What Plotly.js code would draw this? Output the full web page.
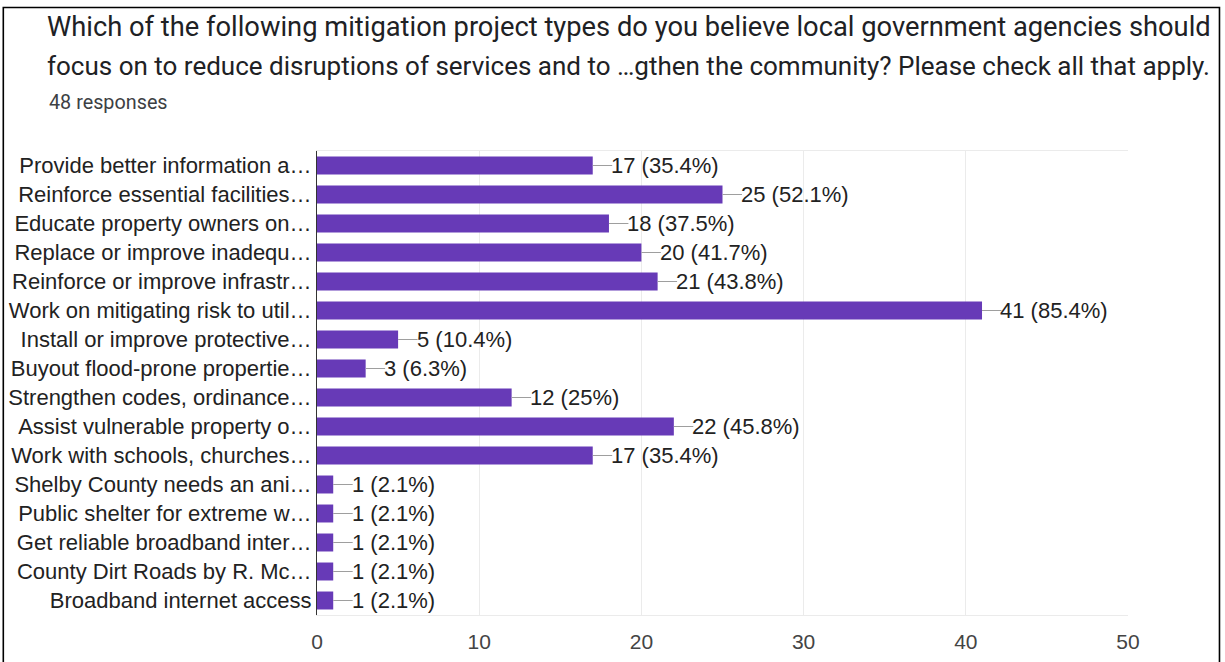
<!DOCTYPE html>
<html>
<head>
<meta charset="utf-8">
<script src="https://cdn.plot.ly/plotly-3.0.1.min.js"></script>
<style>
  html, body { margin: 0; padding: 0; background: #fff; }
  #chart { width: 1225px; height: 662px; }
</style>
</head>
<body>
<div id="chart"></div>
<script>
const categories = [
  "Provide better information a\u2026",
  "Reinforce essential facilities\u2026",
  "Educate property owners on\u2026",
  "Replace or improve inadequ\u2026",
  "Reinforce or improve infrastr\u2026",
  "Work on mitigating risk to util\u2026",
  "Install or improve protective\u2026",
  "Buyout flood-prone propertie\u2026",
  "Strengthen codes, ordinance\u2026",
  "Assist vulnerable property o\u2026",
  "Work with schools, churches\u2026",
  "Shelby County needs an ani\u2026",
  "Public shelter for extreme w\u2026",
  "Get reliable broadband inter\u2026",
  "County Dirt Roads by R. Mc\u2026",
  "Broadband internet access"
];
const counts = [17, 25, 18, 20, 21, 41, 5, 3, 12, 22, 17, 1, 1, 1, 1, 1];
const percents = ["35.4", "52.1", "37.5", "41.7", "43.8", "85.4", "10.4", "6.3", "25", "45.8", "35.4", "2.1", "2.1", "2.1", "2.1", "2.1"];
const xTicks = [0, 10, 20, 30, 40, 50];
const titleLine1 = "Which of the following mitigation project types do you believe local government agencies should";
const titleLine2 = "focus on to reduce disruptions of services and to \u2026gthen the community? Please check all that apply.";
const subtitle = "48 responses";

const LEAD = 1.2;
const LABEL_FONT = "Liberation Sans, Arial, sans-serif";

const bars = {
  type: "bar",
  orientation: "h",
  x: counts,
  y: categories,
  marker: { color: "#673ab7", line: { width: 0 } },
  hoverinfo: "none",
  showlegend: false
};

const lx = [], ly = [];
counts.forEach((v, i) => {
  lx.push(v, v + LEAD, null);
  ly.push(categories[i], categories[i], null);
});
const leaders = {
  type: "scatter",
  mode: "lines",
  x: lx,
  y: ly,
  line: { color: "#9e9e9e", width: 1 },
  hoverinfo: "none",
  showlegend: false
};

const annotations = counts.map((v, i) => ({
  x: v + LEAD,
  y: categories[i],
  xref: "x",
  yref: "y",
  text: v + " (" + percents[i] + "%)",
  showarrow: false,
  xanchor: "left",
  yanchor: "middle",
  xshift: -3,
  font: { family: LABEL_FONT, size: 22, color: "#222222" }
}));

annotations.push(
  { xref: "paper", yref: "paper", x: -0.3354, y: 1.2672, xanchor: "left", yanchor: "middle",
    text: titleLine1, showarrow: false,
    font: { family: "Roboto, sans-serif", size: 27.3, color: "#202124" } },
  { xref: "paper", yref: "paper", x: -0.3354, y: 1.1832, xanchor: "left", yanchor: "middle",
    text: titleLine2, showarrow: false,
    font: { family: "Roboto, sans-serif", size: 26, color: "#202124" } },
  { xref: "paper", yref: "paper", x: -0.3329, y: 1.1056, xanchor: "left", yanchor: "middle",
    text: subtitle, showarrow: false,
    font: { family: "Roboto, sans-serif", size: 19.8, color: "#3c4043" } }
);

const layout = {
  width: 1225,
  height: 662,
  margin: { l: 317, r: 97, t: 151, b: 47, pad: 0 },
  paper_bgcolor: "#ffffff",
  plot_bgcolor: "#ffffff",
  bargap: 0.38,
  xaxis: {
    range: [0, 50],
    tickvals: xTicks,
    ticktext: xTicks.map(String),
    showgrid: true,
    gridcolor: "#ebebeb",
    gridwidth: 1,
    zeroline: false,
    showline: true,
    linecolor: "#ebebeb",
    linewidth: 1,
    mirror: true,
    ticks: "",
    ticklabelstandoff: 8,
    tickfont: { family: LABEL_FONT, size: 21, color: "#444444" },
    fixedrange: true
  },
  yaxis: {
    type: "category",
    autorange: false,
    range: [categories.length - 0.5, -0.5],
    showgrid: false,
    zeroline: false,
    showline: true,
    linecolor: "#333333",
    linewidth: 1,
    ticks: "",
    tickfont: { family: LABEL_FONT, size: 22, color: "#222222" },
    fixedrange: true
  },
  annotations: annotations,
  shapes: [
    { type: "rect", xref: "paper", yref: "paper",
      x0: -0.3868, x1: 1.1128, y0: -0.2, y1: 1.3093,
      line: { color: "#000000", width: 1.6 }, fillcolor: "rgba(0,0,0,0)" }
  ]
};

Plotly.newPlot("chart", [bars, leaders], layout, { displayModeBar: false, staticPlot: true });
</script>
</body>
</html>
